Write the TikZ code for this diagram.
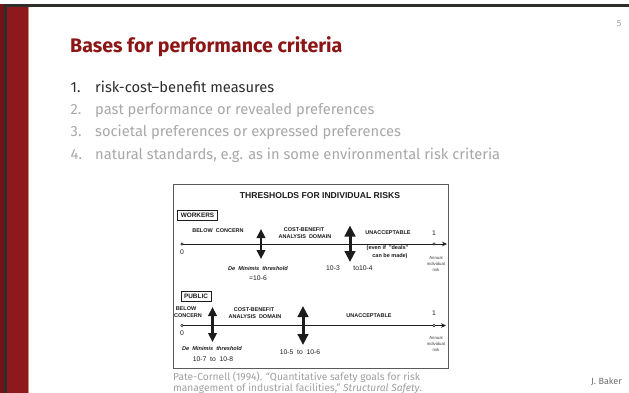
\documentclass[tikz,border=0pt]{standalone}
\usepackage{fontspec}
\setmainfont{Fira Sans}
\newfontfamily\figfont{Liberation Sans}
\usetikzlibrary{arrows.meta}
\definecolor{cardinal}{RGB}{140,21,21}
\definecolor{barred}{RGB}{143,24,28}
\definecolor{topdark}{RGB}{46,45,41}
\definecolor{salmon}{RGB}{205,140,120}
\definecolor{darktext}{RGB}{45,45,45}
\definecolor{lighttext}{RGB}{168,168,168}
\definecolor{captext}{RGB}{160,160,160}
\definecolor{figink}{RGB}{28,28,28}
\definecolor{figframe}{RGB}{90,90,90}
\tikzset{
  slidetext/.style={font=\fontsize{14.7}{16}\selectfont, anchor=base west, inner sep=0pt},
  itemdark/.style={slidetext, text=darktext},
  itemlight/.style={slidetext, text=lighttext},
  figtitle/.style={font=\figfont\bfseries\fontsize{8.6}{9}\selectfont, text=figink, inner sep=0pt},
  figlab/.style={font=\figfont\bfseries\fontsize{5.5}{6}\selectfont, text=figink, inner sep=0pt},
  figital/.style={font=\figfont\bfseries\itshape\fontsize{5.6}{6}\selectfont, text=figink, inner sep=0pt},
  fignum/.style={font=\figfont\fontsize{6.8}{7}\selectfont, text=figink, inner sep=0pt},
  figtiny/.style={font=\figfont\fontsize{4.3}{5}\selectfont, text=figink!85, inner sep=0pt},
  catbox/.style={draw=figink, line width=0.8pt, font=\figfont\bfseries\fontsize{6.4}{7}\selectfont, text=figink, minimum height=10pt, inner xsep=3pt, inner ysep=0pt},
  dblarrow/.style={line width=2.6pt, draw=figink, {Triangle[width=8.5pt,length=9pt]}-{Triangle[width=8.5pt,length=9pt]}},
  dblarrowbig/.style={line width=3pt, draw=figink, {Triangle[width=10.5pt,length=11pt]}-{Triangle[width=10.5pt,length=11pt]}},
  axisline/.style={line width=0.9pt, draw=figink, -{Stealth[length=5pt,width=4.5pt]}},
  tick/.style={circle, draw=figink, line width=0.5pt, fill=white, inner sep=0pt, minimum size=2.4pt},
}
\begin{document}
\begin{tikzpicture}[x=1pt,y=-1pt]
\path[use as bounding box] (0,0) rectangle (629,393);
\fill[white] (0,0) rectangle (629,393);
% slide frame
\fill[topdark] (4,4) rectangle (629,7.5);
\fill[barred!80!black] (0,4.5) rectangle (4,393);
\fill[topdark] (4,4) rectangle (7,393);
\fill[barred] (7,7.5) rectangle (28,393);
\fill[salmon] (28,7.5) rectangle (29,393);
% page number and title
\node[font=\fontsize{9}{10}\selectfont, text=captext, inner sep=0pt] (pgnum) at (619,24) {5};
\node[font=\bfseries\fontsize{19.6}{21}\selectfont, text=cardinal, anchor=base west, inner sep=0pt] (title) at (70,53) {Bases for performance criteria};
% list
\node[itemdark] (n1) at (70.5,92.5) {1.};
\node[itemdark] (t1) at (95,92.5) {risk-cost–benefit measures};
\node[itemlight] (n2) at (70.5,114.8) {2.};
\node[itemlight] (t2) at (95,114.8) {past performance or revealed preferences};
\node[itemlight] (n3) at (70.5,137) {3.};
\node[itemlight] (t3) at (95,137) {societal preferences or expressed preferences};
\node[itemlight] (n4) at (70.5,159.3) {4.};
\node[itemlight] (t4) at (95,159.3) {natural standards, e.g. as in some environmental risk criteria};
% figure frame
\draw[figframe, line width=0.8pt] (173,184) rectangle (448,368);
\node[figtitle] (ftitle) at (320,196) {THRESHOLDS FOR INDIVIDUAL RISKS};
% workers
\node[catbox] (workers) at (197.5,215) {WORKERS};
\node[figlab] (wbelow) at (218,231) {BELOW\ \ CONCERN};
\node[figlab] (wcb1) at (304,230) {COST-BENEFIT};
\node[figlab] (wcb2) at (305,236.8) {ANALYSIS\ \ DOMAIN};
\node[figlab] (wunacc) at (388,233) {UNACCEPTABLE};
\node[fignum] (wone) at (434,233) {1};
\coordinate (wax0) at (181,244);
\coordinate (wax1) at (447,244);
\draw[axisline] (wax0) -- (wax1);
\node[tick] (wt0) at (182,244) {};
\node[tick] (wt1) at (434,244) {};
\node[fignum] (wzero) at (182,252) {0};
\coordinate (wa1t) at (261,229);
\coordinate (wa1b) at (261,259);
\draw[dblarrow] (wa1t) -- (wa1b);
\coordinate (wa2t) at (350,225.5);
\coordinate (wa2b) at (350,262);
\draw[dblarrowbig] (wa2t) -- (wa2b);
\node[figlab] (weven) at (387.5,248.5) {(even if \ "deals"};
\node[figlab] (wmade) at (390,256.5) {can be made)};
\node[figtiny] (wann1) at (436,258) {Annual};
\node[figtiny] (wann2) at (436,264) {individual};
\node[figtiny] (wann3) at (436,270) {risk};
\node[figital] (wdemin) at (258,268) {De\ \ Minimis\ \ threshold};
\node[fignum] (wdemval) at (258,278) {=10-6};
\node[fignum] (wthr1) at (333,268) {10-3};
\node[fignum] (wthr2) at (363,268) {to10-4};
% public
\node[catbox] (public) at (196,296.5) {PUBLIC};
\node[figlab] (pbelow1) at (186,309) {BELOW};
\node[figlab] (pbelow2) at (188,315.5) {CONCERN};
\node[figlab] (pcb1) at (254,310) {COST-BENEFIT};
\node[figlab] (pcb2) at (255,316.5) {ANALYSIS\ \ DOMAIN};
\node[figlab] (punacc) at (369,316) {UNACCEPTABLE};
\node[fignum] (pone) at (434,313) {1};
\coordinate (pax0) at (181,325.5);
\coordinate (pax1) at (446,325.5);
\draw[axisline] (pax0) -- (pax1);
\node[tick] (pt0) at (182,325.5) {};
\node[tick] (pt1) at (434,325.5) {};
\node[fignum] (pzero) at (182,333) {0};
\coordinate (pa1t) at (212.5,307);
\coordinate (pa1b) at (212.5,342);
\draw[dblarrow] (pa1t) -- (pa1b);
\coordinate (pa2t) at (303,306);
\coordinate (pa2b) at (303,345);
\draw[dblarrowbig] (pa2t) -- (pa2b);
\node[figtiny] (pann1) at (436,338) {Annual};
\node[figtiny] (pann2) at (436,344) {individual};
\node[figtiny] (pann3) at (436,350) {risk};
\node[figital] (pdemin) at (212,348) {De\ \ Minimis\ \ threshold};
\node[fignum] (pdemval) at (213,359.5) {10-7\ \ to\ \ 10-8};
\node[fignum] (pthr) at (300,352) {10-5\ \ to\ \ 10-6};
% caption and footer
\node[font=\fontsize{10.2}{12}\selectfont, text=captext, anchor=base west, inner sep=0pt] (cap1) at (173,380.5) {Pate-Cornell (1994). “Quantitative safety goals for risk};
\node[font=\fontsize{10.2}{12}\selectfont, text=captext, anchor=base west, inner sep=0pt] (cap2) at (173,391.5) {management of industrial facilities,” \textit{Structural Safety}.};
\node[font=\fontsize{9}{10}\selectfont, text=darktext!70, anchor=base east, inner sep=0pt] (author) at (622,384.5) {J. Baker};
\end{tikzpicture}
\end{document}
